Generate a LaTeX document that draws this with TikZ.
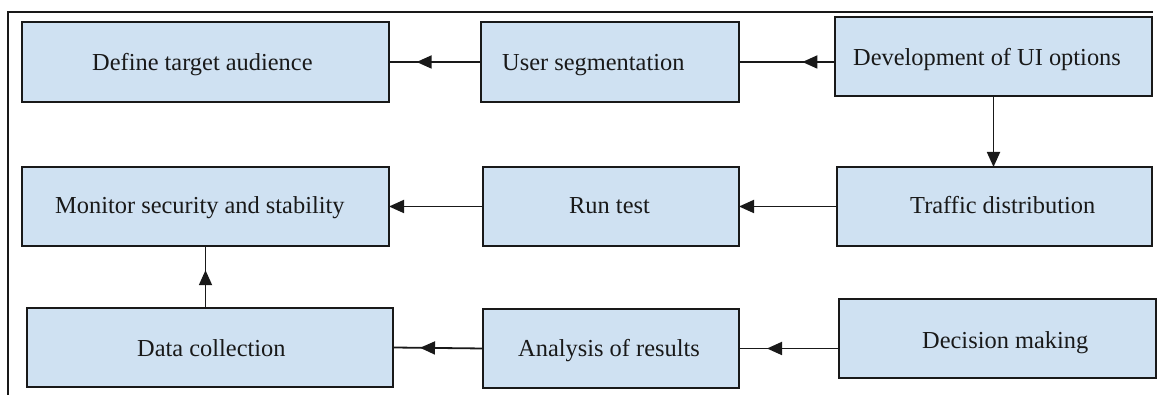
\documentclass[tikz,border=0pt]{standalone}
\usepackage{fontspec}
\setmainfont{Liberation Serif}
\usetikzlibrary{arrows.meta,decorations.markings}

\definecolor{boxfill}{RGB}{207,225,242}
\definecolor{ink}{RGB}{25,25,25}

\begin{document}
\begin{tikzpicture}[x=1pt,y=1pt,
  box/.style={draw=ink, line width=1.8pt, fill=boxfill, rectangle,
    inner sep=0pt, outer sep=0pt, anchor=north west},
  label text/.style={anchor=base west, inner sep=0pt, text=ink,
    font=\fontsize{24.4}{28}\selectfont},
  link/.style={draw=ink, line width=1.8pt},
  tip/.style={-{Triangle[length=15pt,width=13pt]}},
  midtip/.style={postaction={decorate}, decoration={markings,
    mark=at position #1 with {\arrow[ink]{Triangle[length=15pt,width=13pt]}}}}
]
\useasboundingbox (0,0) rectangle (1157,395);

% outer frame (top and left edges)
\draw[ink, line width=1.6pt] (8,0) -- (8,383) -- (1153,383);

% boxes, corners given from the top-left of the sheet
\node[box, minimum width=367pt, minimum height=80pt] (b1) at (22,373) {};
\node[box, minimum width=258pt, minimum height=80pt] (b2) at (481,373) {};
\node[box, minimum width=317pt, minimum height=79pt] (b3) at (835,378) {};
\node[box, minimum width=315pt, minimum height=79pt] (b4) at (837,228) {};
\node[box, minimum width=367pt, minimum height=79pt] (b5) at (22,228) {};
\node[box, minimum width=256pt, minimum height=79pt] (b6) at (483,228) {};
\node[box, minimum width=366pt, minimum height=79pt] (b7) at (27,87) {};
\node[box, minimum width=256pt, minimum height=79pt] (b8) at (483,86) {};
\node[box, minimum width=317pt, minimum height=79pt] (b9) at (839,96) {};

% texts
\node[label text] (t1) at (92,324) {Define target audience};
\node[label text] (t2) at (502,324) {User segmentation};
\node[label text] (t3) at (853,329) {Development of UI options};
\node[label text] (t4) at (910,181) {Traffic distribution};
\node[label text] (t5) at (55,181) {Monitor security and stability};
\node[label text] (t6) at (569,181) {Run test};
\node[label text] (t7) at (137,38) {Data collection};
\node[label text] (t8) at (518,38) {Analysis of results};
\node[label text] (t9) at (922,46) {Decision making};

% connectors
\draw[link, midtip=0.70] (b2.west) -- (b1.east);
\draw[link, midtip=0.34] (b3.west |- b2.east) -- (b2.east);
\draw[link, tip] (b3.south) -- (b3.south |- b4.north);
\draw[link, tip] (b4.west) -- (b6.east);
\draw[link, tip] (b6.west) -- (b5.east);
\draw[link, midtip=0.61] (b5.south |- b7.north) -- (b5.south);
\draw[link, midtip=0.72] (b9.west |- b8.east) -- (b8.east);
\draw[link, midtip=0.70] (b8.west) -- (b7.east);
\end{tikzpicture}
\end{document}
